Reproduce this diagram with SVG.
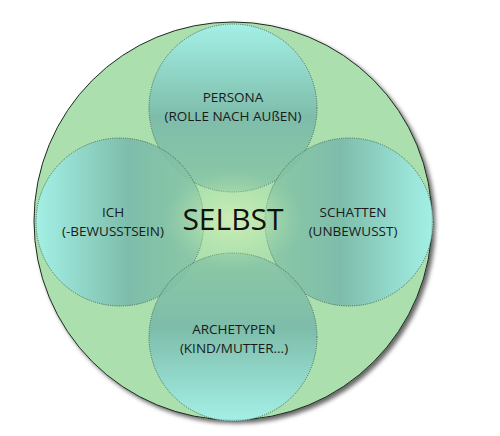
<svg xmlns="http://www.w3.org/2000/svg" width="500" height="436" viewBox="0 0 500 436">
<style>
.lbl{font-family:"Open Sans","Noto Sans","Liberation Sans",sans-serif;font-size:13.5px;fill:#1a1a1a;text-anchor:middle}
.big{font-family:"Open Sans","Noto Sans","Liberation Sans",sans-serif;font-size:30px;fill:#111;text-anchor:middle}
.sub{stroke:#3d5c4c;stroke-width:0.9;stroke-dasharray:1 1.2;fill-opacity:0.88}
</style>
<defs>
<filter id="sh" x="-10%" y="-10%" width="125%" height="125%">
<feDropShadow dx="3" dy="3" stdDeviation="2" flood-color="#000" flood-opacity="0.6"/>
</filter>
<linearGradient id="gT" x1="0" y1="0" x2="0" y2="1">
<stop offset="0" stop-color="#a2f2ee"/><stop offset="0.55" stop-color="#78b8aa"/><stop offset="1" stop-color="#88c6a4"/>
</linearGradient>
<linearGradient id="gB" x1="0" y1="1" x2="0" y2="0">
<stop offset="0" stop-color="#a2f2ee"/><stop offset="0.55" stop-color="#78b8aa"/><stop offset="1" stop-color="#88c6a4"/>
</linearGradient>
<linearGradient id="gL" x1="0" y1="0" x2="1" y2="0">
<stop offset="0" stop-color="#a2f2ee"/><stop offset="0.55" stop-color="#78b8aa"/><stop offset="1" stop-color="#88c6a4"/>
</linearGradient>
<linearGradient id="gR" x1="1" y1="0" x2="0" y2="0">
<stop offset="0" stop-color="#a2f2ee"/><stop offset="0.55" stop-color="#78b8aa"/><stop offset="1" stop-color="#88c6a4"/>
</linearGradient>
<radialGradient id="glow" cx="0.5" cy="0.5" r="0.5">
<stop offset="0" stop-color="#d2efb8" stop-opacity="0.9"/><stop offset="0.55" stop-color="#c4ebb2" stop-opacity="0.4"/><stop offset="1" stop-color="#abe0ae" stop-opacity="0"/>
</radialGradient>
</defs>
<g id="selbst-outer">
<circle cx="233" cy="221" r="199" fill="#abe0ae" stroke="#1e2a20" stroke-width="1" filter="url(#sh)"/>
</g>
<g id="persona">
<circle class="sub" cx="233" cy="108" r="84" fill="url(#gT)"/>
</g>
<g id="ich">
<circle class="sub" cx="120" cy="222" r="84" fill="url(#gL)"/>
</g>
<g id="schatten">
<circle class="sub" cx="349" cy="222" r="84" fill="url(#gR)"/>
</g>
<g id="archetypen">
<circle class="sub" cx="233" cy="337" r="84" fill="url(#gB)"/>
</g>
<g id="glow-center">
<ellipse cx="233" cy="220" rx="70" ry="50" fill="url(#glow)"/>
</g>
<g id="labels">
<text class="lbl" x="233" y="102">PERSONA</text>
<text class="lbl" x="233" y="121">(ROLLE NACH AUßEN)</text>
<text class="lbl" x="113" y="217">ICH</text>
<text class="lbl" x="113" y="236">(-BEWUSSTSEIN)</text>
<text class="lbl" x="353" y="217">SCHATTEN</text>
<text class="lbl" x="353" y="236">(UNBEWUSST)</text>
<text class="lbl" x="234" y="334">ARCHETYPEN</text>
<text class="lbl" x="234" y="353">(KIND/MUTTER...)</text>
<text class="big" x="233" y="230">SELBST</text>
</g>
</svg>
